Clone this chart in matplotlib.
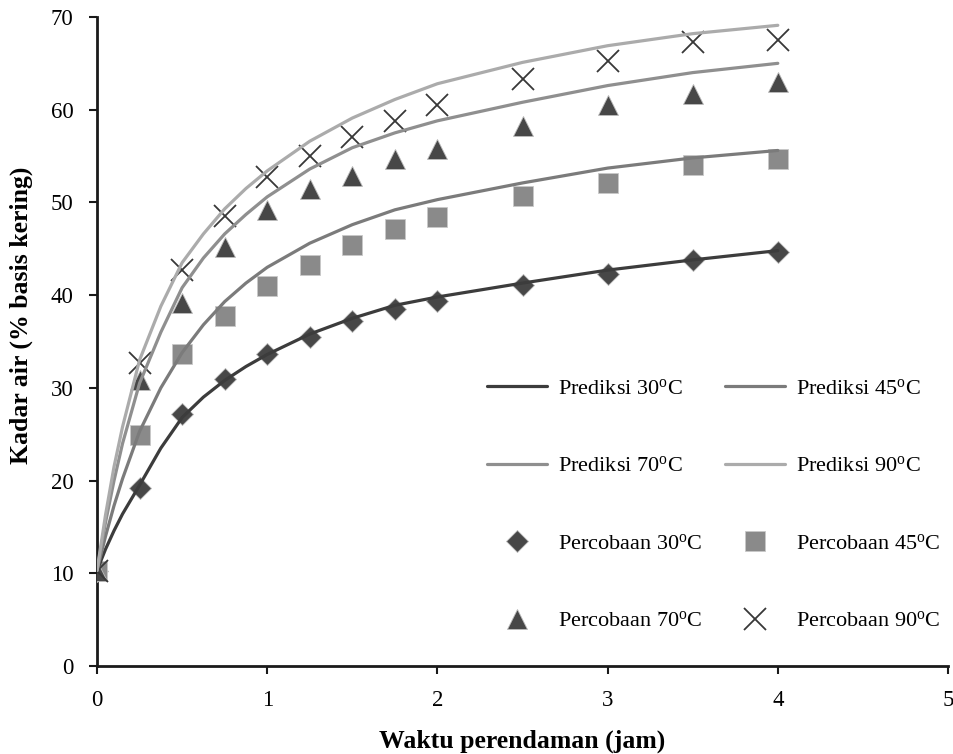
import matplotlib
matplotlib.use("Agg")
import matplotlib.pyplot as plt

plt.rcParams['font.family'] = ['Liberation Serif', 'DejaVu Serif']
plt.rcParams['mathtext.fontset'] = 'custom'
plt.rcParams['mathtext.rm'] = 'Liberation Serif'
plt.rcParams['mathtext.it'] = 'Liberation Serif:italic'
plt.rcParams['mathtext.bf'] = 'Liberation Serif:bold'

# Experimental data (jam, % basis kering)
t_exp = [0, 0.25, 0.5, 0.75, 1, 1.25, 1.5, 1.75, 2, 2.5, 3, 3.5, 4]
exp_30 = [10.3, 19.2, 27.2, 31.0, 33.7, 35.5, 37.2, 38.5, 39.4, 41.1, 42.3, 43.8, 44.7]
exp_45 = [10.3, 24.9, 33.7, 37.8, 41.0, 43.3, 45.4, 47.1, 48.4, 50.7, 52.1, 54.0, 54.7]
exp_70 = [10.3, 30.8, 39.2, 45.2, 49.2, 51.4, 52.9, 54.7, 55.8, 58.2, 60.5, 61.7, 63.0]
exp_90 = [10.3, 32.7, 42.7, 48.5, 52.7, 55.0, 57.1, 58.8, 60.5, 63.3, 65.3, 67.3, 67.5]

# Prediction curves
t_pred = [0, 0.05, 0.1, 0.15, 0.25, 0.375, 0.5, 0.625, 0.75, 0.875, 1, 1.25, 1.5, 1.75, 2, 2.5, 3, 3.5, 4]
pred_30 = [10.3, 12.6, 14.6, 16.4, 19.5, 23.5, 26.8, 29.0, 30.8, 32.3, 33.6, 35.8, 37.5, 38.9, 39.8, 41.3, 42.7, 43.8, 44.8]
pred_45 = [10.3, 14.0, 17.3, 20.2, 25.3, 30.0, 33.8, 36.8, 39.3, 41.3, 43.0, 45.6, 47.6, 49.2, 50.3, 52.1, 53.7, 54.8, 55.6]
pred_70 = [10.3, 15.5, 20.0, 24.0, 30.5, 36.0, 40.8, 44.0, 46.6, 48.7, 50.6, 53.6, 55.9, 57.5, 58.8, 60.8, 62.6, 64.0, 65.0]
pred_90 = [10.3, 16.3, 21.5, 25.8, 33.0, 38.8, 43.5, 46.6, 49.3, 51.5, 53.4, 56.6, 59.1, 61.1, 62.8, 65.1, 66.9, 68.2, 69.1]

x_ticks = [0, 1, 2, 3, 4, 5]
y_ticks = [0, 10, 20, 30, 40, 50, 60, 70]

fig = plt.figure(figsize=(9.54, 7.54), dpi=100)
ax = fig.add_axes([0.1017, 0.1167, 0.892, 0.8608])

lw = 2.3
kw = dict(lw=lw, solid_capstyle='round', solid_joinstyle='round', zorder=4)
l30, = ax.plot(t_pred, pred_30, color='#3c3c3c', **kw)
l45, = ax.plot(t_pred, pred_45, color='#7b7b7b', **kw)
l70, = ax.plot(t_pred, pred_70, color='#8f8f8f', **kw)
l90, = ax.plot(t_pred, pred_90, color='#ababab', **kw)

m30, = ax.plot(t_exp, exp_30, ls='none', marker='D', ms=11, color='#474747',
               mec='#bdbdbd', mew=0.6, zorder=3)
m45, = ax.plot(t_exp, exp_45, ls='none', marker='s', ms=14, color='#8a8a8a',
               mec='#c8c8c8', mew=0.6, zorder=3)
m70, = ax.plot(t_exp, exp_70, ls='none', marker='^', ms=14.5, color='#474747',
               mec='#bdbdbd', mew=0.6, zorder=3)
m90, = ax.plot(t_exp, exp_90, ls='none', marker='x', ms=16, color='#383838',
               mew=1.3, zorder=3)

ax.set_xlim(0, 5)
ax.set_ylim(0, 70)
ax.set_xticks(x_ticks)
ax.set_yticks(y_ticks)
for s in ['top', 'right']:
    ax.spines[s].set_visible(False)
for s in ['left', 'bottom']:
    ax.spines[s].set_linewidth(2.0)
    ax.spines[s].set_color('#1a1a1a')
ax.tick_params(axis='both', direction='out', length=6, width=1.5, color='#1a1a1a',
               labelsize=16.5, pad=11)

ax.set_xlabel('Waktu perendaman (jam)', fontsize=18.5, fontweight='bold', labelpad=14)
ax.set_ylabel('Kadar air (% basis kering)', fontsize=18.5, fontweight='bold', labelpad=10)
ax.yaxis.set_label_coords(-0.075, 0.54)

deg = r'$^{\mathrm{o}}$C'
handles = [l30, l70, m30, m70, l45, l90, m45, m90]
labels = ['Prediksi 30' + deg, 'Prediksi 70' + deg, 'Percobaan 30' + deg, 'Percobaan 70' + deg,
          'Prediksi 45' + deg, 'Prediksi 90' + deg, 'Percobaan 45' + deg, 'Percobaan 90' + deg]
leg = ax.legend(handles, labels, ncol=2, loc='upper left', bbox_to_anchor=(0.458, 0.443),
                frameon=False, fontsize=16, handlelength=2.7, handletextpad=0.5,
                columnspacing=1.0, labelspacing=2.56, borderpad=0, borderaxespad=0,
                numpoints=1)

fig.savefig('out.png', dpi=100)
